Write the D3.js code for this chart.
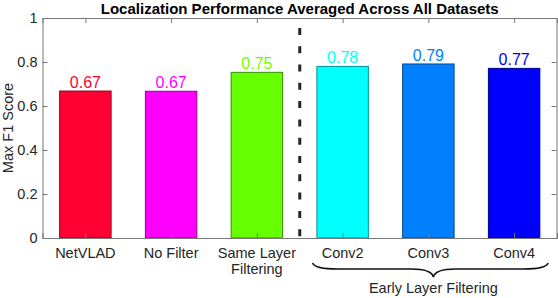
<!DOCTYPE html>
<html>
<head>
<meta charset="utf-8">
<script src="https://cdn.jsdelivr.net/npm/d3@7"></script>
<style>
  body { margin: 0; background: #fff; }
  svg { font-family: "Liberation Sans", Arial, Helvetica, sans-serif; }
</style>
</head>
<body>
<div id="chart"></div>
<script>
"use strict";

// Data
var categories = ["NetVLAD", "No Filter", "Same Layer\nFiltering", "Conv2", "Conv3", "Conv4"];
var scores = [0.668, 0.667, 0.753, 0.780, 0.791, 0.771];
var scoreLabels = ["0.67", "0.67", "0.75", "0.78", "0.79", "0.77"];
var yTicks = [0, 0.2, 0.4, 0.6, 0.8, 1];
var groupName = "Early Layer Filtering";
var groupMembers = ["Conv2", "Conv3", "Conv4"];

// Bar colours
var barColors = ["#ff0033", "#ff00ff", "#66ff00", "#00ffff", "#0080ff", "#0000ff"];

var width = 558, height = 298;
var margin = {top: 18, right: 1, bottom: 60, left: 42.5};
var axisColor = "#777777";
var textColor = "#262626";
var fontSize = "14.5px";

var svg = d3.select("#chart").append("svg")
  .attr("width", width)
  .attr("height", height);

// Scales: categories sit at 1..6, limits 0.5..6.5 like the original
var x = d3.scaleLinear()
  .domain([0.5, categories.length + 0.5])
  .range([margin.left, width - margin.right]);

var y = d3.scaleLinear()
  .domain([0, 1])
  .range([height - margin.bottom, margin.top]);

var step = x(2) - x(1);
var barWidth = step * 0.6;

// Bars
svg.append("g")
  .selectAll("rect")
  .data(scores)
  .enter()
  .append("rect")
    .attr("x", (d, i) => x(i + 1) - barWidth / 2)
    .attr("y", d => y(d))
    .attr("width", barWidth)
    .attr("height", d => y(0) - y(d))
    .attr("fill", (d, i) => barColors[i])
    .attr("stroke", (d, i) => d3.color(barColors[i]).darker(1.6))
    .attr("stroke-width", 1);

// Value labels
svg.append("g")
  .selectAll("text")
  .data(scores)
  .enter()
  .append("text")
    .attr("x", (d, i) => x(i + 1))
    .attr("y", d => y(d) - 3)
    .attr("text-anchor", "middle")
    .attr("font-size", "16px")
    .attr("fill", (d, i) => barColors[i])
    .text((d, i) => scoreLabels[i]);

// Axes box
var xTickVals = d3.range(1, categories.length + 1);

var bottomAxis = svg.append("g")
  .attr("transform", `translate(0, ${y(0)})`)
  .call(d3.axisBottom(x).tickValues(xTickVals).tickSize(-5).tickFormat(""));

var topAxis = svg.append("g")
  .attr("transform", `translate(0, ${y(1)})`)
  .call(d3.axisTop(x).tickValues(xTickVals).tickSize(-5).tickFormat(""));

var leftAxis = svg.append("g")
  .attr("transform", `translate(${x(0.5)}, 0)`)
  .call(d3.axisLeft(y).tickValues(yTicks).tickSize(-5).tickPadding(5)
    .tickFormat(d => (d === 0 || d === 1) ? String(d) : d.toFixed(1)));

var rightAxis = svg.append("g")
  .attr("transform", `translate(${x(categories.length + 0.5) - 0.5}, 0)`)
  .call(d3.axisRight(y).tickValues(yTicks).tickSize(-5).tickFormat(""));

[bottomAxis, topAxis, leftAxis, rightAxis].forEach(function(a) {
  a.select(".domain").attr("stroke", axisColor);
  a.selectAll(".tick line").attr("stroke", axisColor);
});

leftAxis.selectAll("text")
  .attr("font-size", fontSize)
  .attr("fill", textColor)
  .attr("font-family", null);
leftAxis.attr("font-family", null);

// Category labels (multi-line allowed)
var xLabels = svg.append("g")
  .selectAll("text")
  .data(categories)
  .enter()
  .append("text")
    .attr("x", (d, i) => x(i + 1))
    .attr("y", y(0) + 20)
    .attr("text-anchor", "middle")
    .attr("font-size", fontSize)
    .attr("fill", textColor);

xLabels.each(function(d, i) {
  var lines = d.split("\n");
  var t = d3.select(this);
  lines.forEach(function(line, j) {
    t.append("tspan")
      .attr("x", x(i + 1))
      .attr("dy", j === 0 ? 0 : 16)
      .text(line);
  });
});

// Dashed separator between same-layer and early-layer groups
var sepX = (x(3) + x(4)) / 2;
svg.append("line")
  .attr("x1", sepX)
  .attr("x2", sepX)
  .attr("y1", y(0.955))
  .attr("y2", y(0))
  .attr("stroke", "#262626")
  .attr("stroke-width", 3)
  .attr("stroke-dasharray", "7,11.3");

// Brace under the early-layer group
var firstIdx = categories.indexOf(groupMembers[0]) + 1;
var lastIdx = categories.indexOf(groupMembers[groupMembers.length - 1]) + 1;
var bx0 = x(firstIdx) - 30;
var bx1 = x(lastIdx) + 34;
var bmid = (bx0 + bx1) / 2 + 3;
var by0 = y(0) + 25, by1 = y(0) + 31, byTip = y(0) + 39;

svg.append("path")
  .attr("d", `M${bx0},${by0} Q${bx0 + 2},${by1} ${bx0 + 25},${by1}
              L${bmid - 22},${by1} Q${bmid - 2},${by1} ${bmid},${byTip}
              Q${bmid + 2},${by1} ${bmid + 22},${by1}
              L${bx1 - 25},${by1} Q${bx1 - 2},${by1} ${bx1},${by0}`)
  .attr("fill", "none")
  .attr("stroke", "#111")
  .attr("stroke-width", 1.6);

svg.append("text")
  .attr("x", bmid)
  .attr("y", y(0) + 55)
  .attr("text-anchor", "middle")
  .attr("font-size", fontSize)
  .attr("fill", textColor)
  .text(groupName);

// Y axis label
svg.append("text")
  .attr("transform", `translate(13, ${(y(0) + y(1)) / 2}) rotate(-90)`)
  .attr("text-anchor", "middle")
  .attr("font-size", fontSize)
  .attr("fill", textColor)
  .text("Max F1 Score");

// Title
svg.append("text")
  .attr("x", (x(0.5) + x(categories.length + 0.5)) / 2)
  .attr("y", 13.5)
  .attr("text-anchor", "middle")
  .attr("font-size", "15px")
  .attr("font-weight", "bold")
  .attr("fill", "#000")
  .text("Localization Performance Averaged Across All Datasets");
</script>
</body>
</html>
